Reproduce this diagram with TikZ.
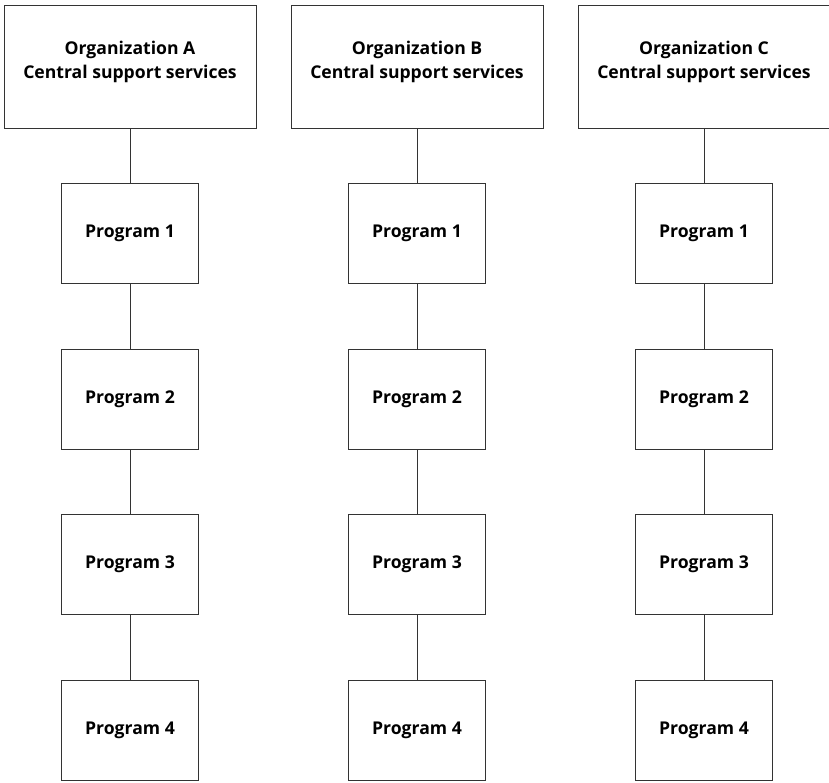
\documentclass[tikz,border=0pt]{standalone}
\usepackage{fontspec}
\setmainfont{Open Sans}
\begin{document}
\begin{tikzpicture}[x=1pt,y=-1pt,
  box/.style={draw=black!80, line width=1pt, fill=white, inner sep=0pt, align=center,
    font=\fontsize{17.6}{24}\selectfont\bfseries},
  orgbox/.style={box, minimum width=252pt, minimum height=123pt},
  progbox/.style={box, minimum width=137pt, minimum height=100pt},
  link/.style={draw=black!80, line width=1pt}]
\useasboundingbox (0,0) rectangle (829,782);
\foreach \c/\x in {A/130,B/417,C/704} {
  \node[orgbox] (org\c) at (\x,66.5) {};
  \node (title\c) at (\x,62) [font=\fontsize{17.6}{24}\selectfont\bfseries, align=center] {Organization \c\\Central support services};
  \foreach \i/\y in {1/233,2/399,3/564.5,4/730.5} {
    \node[progbox] (p\c\i) at (\x,\y) {Program \i};
  }
  \draw[link] (org\c) -- (p\c1);
  \draw[link] (p\c1) -- (p\c2);
  \draw[link] (p\c2) -- (p\c3);
  \draw[link] (p\c3) -- (p\c4);
}
\end{tikzpicture}
\end{document}
